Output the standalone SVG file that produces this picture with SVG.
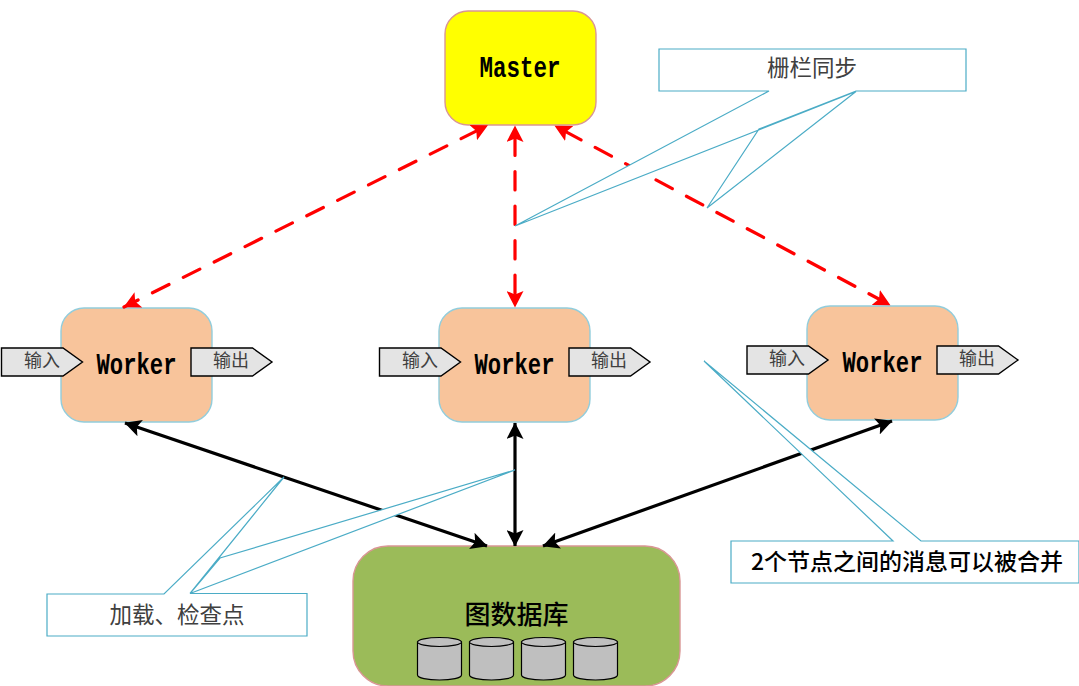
<svg xmlns="http://www.w3.org/2000/svg" width="1079" height="686" viewBox="0 0 1079 686">
<style>
.n{stroke-width:1.4}
.m{fill:#ffff00;stroke:#d99694}
.w{fill:#f8c49b;stroke:#92cddc}
.d{fill:#9bbb59;stroke:#d99694}
.lat{font-family:"Liberation Mono",monospace;font-weight:bold;font-size:29px;fill:#000;text-anchor:middle}
.cjk{font-family:"Noto Sans CJK SC",sans-serif;text-anchor:middle}
.call{font-size:22.5px;fill:#404040}
.io{font-size:18px;fill:#404040}
.tag{fill:#e4e4e4;stroke:#000;stroke-width:1.4}
.cb{fill:#fff;stroke:#4bacc6;stroke-width:1.2}
.rd{fill:none;stroke:#ff0000;stroke-width:3.200;stroke-linecap:round;stroke-dasharray:18.500 16;stroke-dashoffset:23.500;marker-start:url(#ar);marker-end:url(#ar)}
.bk{fill:none;stroke:#000;stroke-width:3.200;marker-start:url(#ab);marker-end:url(#ab)}
.cyl{fill:#bfbfbf;stroke:#000;stroke-width:1.2}
</style>
<defs>
<marker id="ar" viewBox="0 0 17 17" refX="16" refY="8.500" markerWidth="17" markerHeight="17" markerUnits="userSpaceOnUse" orient="auto-start-reverse"><path d="M0 0L16.500 8.500L0 17L3.500 8.500Z" fill="#ff0000"/></marker>
<marker id="ab" viewBox="0 0 17 17" refX="16" refY="8.500" markerWidth="17" markerHeight="17" markerUnits="userSpaceOnUse" orient="auto-start-reverse"><path d="M0 0L16.500 8.500L0 17L3.500 8.500Z" fill="#000"/></marker>
<g id="cyl"><path class="cyl" d="M0 5V38C0 41 10 43 22 43S44 41 44 38V5Z"/><ellipse class="cyl" cx="22" cy="5" rx="22" ry="4.500"/></g>
<g id="inp"><path class="tag" d="M0.500 0.500H62L81.500 14.500L62 28.500H0.500Z"/></g>
</defs>

<g id="master"><rect class="n m" x="445" y="11" width="151" height="114" rx="23"/><text class="lat" x="520" y="76.500" textLength="81" lengthAdjust="spacingAndGlyphs">Master</text></g>

<g id="worker1"><rect class="n w" x="61" y="308" width="151" height="114" rx="23"/><text class="lat" x="136.500" y="373.500" textLength="80" lengthAdjust="spacingAndGlyphs">Worker</text>
<use href="#inp" x="1" y="347.500"/><text class="cjk io" x="42" y="367">输入</text>
<use href="#inp" x="190.500" y="347.500"/><text class="cjk io" x="231" y="367">输出</text></g>

<g id="worker2"><rect class="n w" x="439" y="308" width="151" height="114" rx="23"/><text class="lat" x="514.500" y="373.500" textLength="80" lengthAdjust="spacingAndGlyphs">Worker</text>
<use href="#inp" x="379" y="347.500"/><text class="cjk io" x="420" y="367">输入</text>
<use href="#inp" x="568.500" y="347.500"/><text class="cjk io" x="609" y="367">输出</text></g>

<g id="worker3"><rect class="n w" x="807" y="306" width="151" height="114" rx="23"/><text class="lat" x="882.500" y="371.500" textLength="80" lengthAdjust="spacingAndGlyphs">Worker</text>
<use href="#inp" x="746.500" y="345.500"/><text class="cjk io" x="787" y="365">输入</text>
<use href="#inp" x="936.500" y="345.500"/><text class="cjk io" x="977" y="365">输出</text></g>

<g id="graphdb"><rect class="n d" x="353" y="546" width="327" height="140" rx="35"/><text class="cjk" x="516.500" y="624" font-size="26" fill="#000" font-weight="500">图数据库</text>
<use href="#cyl" x="417.500" y="637"/><use href="#cyl" x="469.500" y="637"/><use href="#cyl" x="521.500" y="637"/><use href="#cyl" x="573.500" y="637"/></g>

<g id="connectors">
<path class="rd" d="M487.500 125.500L124 307"/>
<path class="rd" d="M515 126V307"/>
<path class="rd" d="M555 126L890 305"/>
<path class="bk" d="M125 423L487 546"/>
<path class="bk" d="M515 423V546"/>
<path class="bk" d="M892 421L543 546"/>
</g>

<g id="callout-barrier">
<path class="cb" d="M659 49H966V91H856L759 129L707 208L856 91.500L515 226L769 91H659Z"/>
<text class="cjk call" x="812" y="76">栅栏同步</text></g>

<g id="callout-load">
<path class="cb" d="M47 594H164L284 477L190 593.500L220 558L515 470L190 593.500H307V636H47Z"/>
<text class="cjk call" x="177" y="623">加载、检查点</text></g>

<g id="callout-merge">
<path class="cb" d="M731 541H893L704 361L921 541H1079V583H731Z"/>
<text class="cjk" x="907" y="570" font-size="23" fill="#000" font-weight="500">2个节点之间的消息可以被合并</text></g>
</svg>
